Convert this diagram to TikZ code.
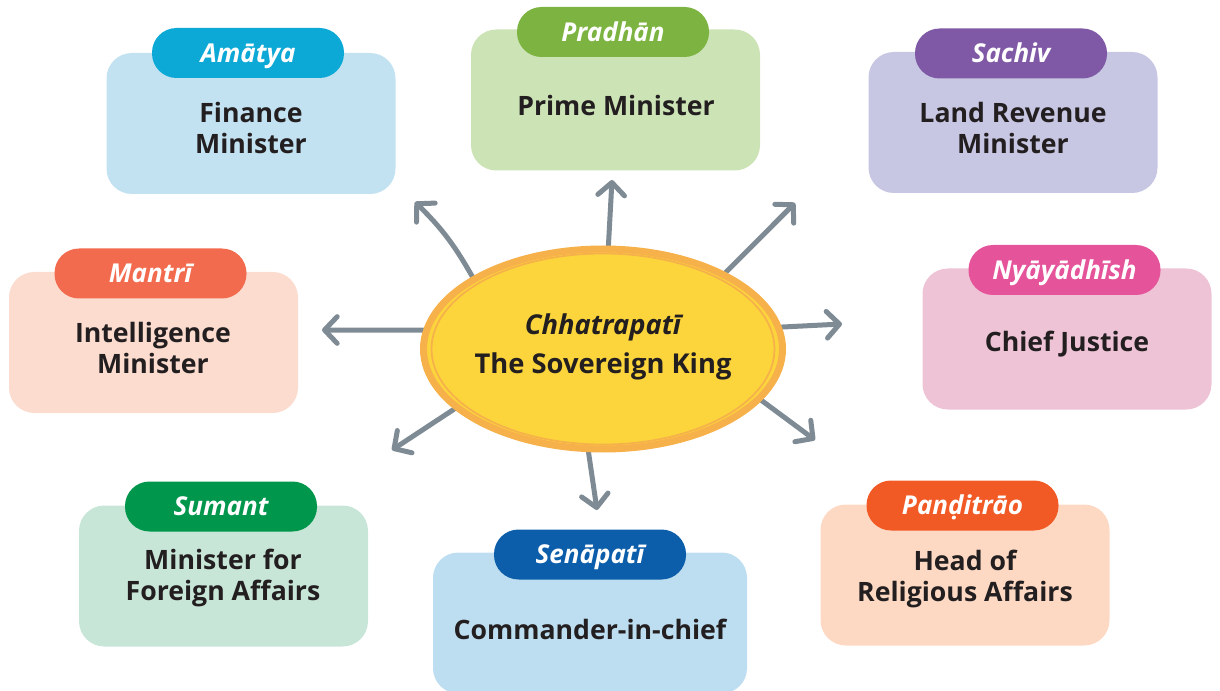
\documentclass[tikz,border=0pt]{standalone}
\usepackage{fontspec}
\setmainfont{Open Sans}
\usetikzlibrary{shapes.geometric,arrows.meta,backgrounds}
\definecolor{txt}{HTML}{231F20}
\definecolor{arrowgray}{HTML}{7F8B94}
\definecolor{kingfill}{HTML}{FCD53C}
\definecolor{kingring}{HTML}{F6B14B}
\definecolor{bA}{HTML}{C3E2F1}\definecolor{tA}{HTML}{0DA9D6}
\definecolor{bP}{HTML}{CCE3B6}\definecolor{tP}{HTML}{7DB441}
\definecolor{bS}{HTML}{C8C7E3}\definecolor{tS}{HTML}{7F59A5}
\definecolor{bM}{HTML}{FCDCCE}\definecolor{tM}{HTML}{F26B4E}
\definecolor{bN}{HTML}{EDC3D5}\definecolor{tN}{HTML}{E5539A}
\definecolor{bSu}{HTML}{C8E6D8}\definecolor{tSu}{HTML}{00964B}
\definecolor{bSe}{HTML}{BDDDF0}\definecolor{tSe}{HTML}{0D5EAA}
\definecolor{bPa}{HTML}{FDD9C3}\definecolor{tPa}{HTML}{F15A25}
\tikzset{
  body/.style={rounded corners=19pt, minimum width=216.75pt, minimum height=105.75pt, inner sep=0pt},
  tab/.style={rounded corners=18.4pt, minimum width=144pt, minimum height=37.5pt, inner sep=0pt,
    text height=14pt, text depth=0pt,
    text=white, font=\fontsize{19.5}{22}\selectfont\bfseries\itshape},
  lbl/.style={font=\fontsize{20}{23.7}\selectfont\bfseries, text=txt, align=center, inner sep=0pt},
  arr/.style={draw=arrowgray, line width=3.75pt, line cap=round,
    -{Straight Barb[length=9.5pt,width=20pt,round]}},
}
\begin{document}
\begin{tikzpicture}[x=0.75pt,y=-0.75pt]
\useasboundingbox (0,0) rectangle (1220,691);

% boxes
\node[body, fill=bA] (boxA) at (251,123.5) {};
\node[tab, fill=tA] (tabA) at (248,53) {Amātya};
\node[lbl] (txtA) at (251,128) {Finance\\Minister};

\node[body, fill=bP] (boxP) at (615.5,100) {};
\node[tab, fill=tP] (tabP) at (613,32) {Pradhān};
\node[lbl] (txtP) at (616,106) {Prime Minister};

\node[body, fill=bS] (boxS) at (1013,122.5) {};
\node[tab, fill=tS] (tabS) at (1011,53.5) {Sachiv};
\node[lbl] (txtS) at (1013,128) {Land Revenue\\Minister};

\node[body, fill=bM] (boxM) at (153.5,342.5) {};
\node[tab, fill=tM] (tabM) at (150.5,273.5) {Mantrī};
\node[lbl] (txtM) at (153,348) {Intelligence\\Minister};

\node[body, fill=bN] (boxN) at (1067,339) {};
\node[tab, fill=tN] (tabN) at (1064.5,270) {Nyāyādhīsh};
\node[lbl] (txtN) at (1067,344) {Chief Justice};

\node[body, fill=bSu] (boxSu) at (223.5,576) {};
\node[tab, fill=tSu] (tabSu) at (221,506.5) {Sumant};
\node[lbl] (txtSu) at (223,578) {Minister for\\Foreign Affairs};

\node[body, fill=bSe, minimum width=235.5pt] (boxSe) at (590,623) {};
\node[tab, fill=tSe] (tabSe) at (590,554.5) {Senāpatī};
\node[lbl] (txtSe) at (590,629) {Commander-in-chief};

\node[body, fill=bPa] (boxPa) at (965,575) {};
\node[tab, fill=tPa] (tabPa) at (962.5,505.5) {Pand\symbol{"0323}itrāo};
\node[lbl] (txtPa) at (965,579) {Head of\\Religious Affairs};

% king
\node[ellipse, draw=kingring, line width=5.25pt, fill=kingfill, inner sep=0pt,
      minimum width=269.25pt, minimum height=150pt] (king) at (603,349) {};
\draw[kingring, line width=1.3pt] (king.center) ellipse [x radius=171.5, y radius=95.5];
\node[lbl, font=\fontsize{20.5}{29.5}\selectfont\bfseries] (kingtxt) at (603,347)
  {\itshape Chhatrapatī\\The Sovereign King};

% arrow tips
\coordinate (pA) at (415,202);
\coordinate (pP) at (612,180);
\coordinate (pS) at (795,203);
\coordinate (pM) at (322,330);
\coordinate (pN) at (842,324);
\coordinate (pSu) at (392,450);
\coordinate (pSe) at (597,510);
\coordinate (pPa) at (815,440);

\begin{scope}[on background layer]
\draw[arr] (king.151.7) to[bend right=8] (pA);
\draw[arr] (king.87.3) -- (pP);
\draw[arr] (king.32.7) -- (pS);
\draw[arr] (king.174.3) -- (pM);
\draw[arr] (king.7.7) -- (pN);
\draw[arr] (king.202.2) -- (pSu);
\draw[arr] (king.262.4) -- (pSe);
\draw[arr] (king.342.9) -- (pPa);
\end{scope}
\end{tikzpicture}
\end{document}
